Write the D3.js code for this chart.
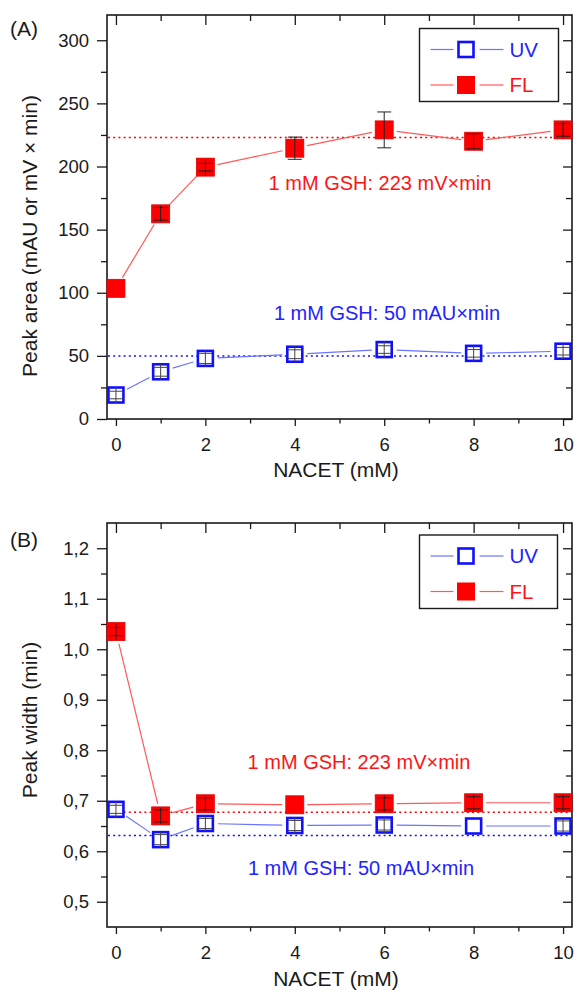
<!DOCTYPE html>
<html>
<head>
<meta charset="utf-8">
<script src="https://cdn.jsdelivr.net/npm/d3@7"></script>
<style>
  body { margin: 0; background: #fff; }
  svg { display: block; }
  text { font-family: "Liberation Sans", Arial, sans-serif; }
</style>
</head>
<body>
<svg id="chart" width="574" height="992"></svg>
<script>
// NACET concentrations (mM)
const nacet = [0, 1, 2, 4, 6, 8, 10];
const xTicks = [0, 2, 4, 6, 8, 10];
const xMinorTicks = [1, 3, 5, 7, 9];

// (A) peak area
const areaUV = [19, 37.4, 48, 51.3, 55, 52, 53.7];
const areaUVErr = [3, 3.5, 4, 3.5, 3, 3, 3];
const areaFL = [103.5, 162.5, 199.5, 214.5, 229, 220, 229];
const areaFLErr = [0, 5, 3, 8.8, 14.2, 6, 5];
const areaRefUV = 50;
const areaRefFL = 223;
const areaTicks = [0, 50, 100, 150, 200, 250, 300];
const areaMinorTicks = [25, 75, 125, 175, 225, 275];

// (B) peak width
const widthUV = [0.683, 0.623, 0.655, 0.651, 0.652, 0.650, 0.650];
const widthUVErr = [0.008, 0.01, 0.01, 0.01, 0.01, 0, 0.01];
const widthFL = [1.035, 0.670, 0.694, 0.692, 0.694, 0.696, 0.696];
const widthFLErr = [0.008, 0.012, 0.012, 0, 0.012, 0.012, 0.012];
const widthRefUV = 0.631;
const widthRefFL = 0.677;
const widthTicks = [0.5, 0.6, 0.7, 0.8, 0.9, 1.0, 1.1, 1.2];
const widthMinorTicks = [0.55, 0.65, 0.75, 0.85, 0.95, 1.05, 1.15];

const seriesNames = ["UV", "FL"];
const refLabels = ["1 mM GSH: 50 mAU×min", "1 mM GSH: 223 mV×min"];

const BLUE = "#1010ff", BLUE_LINE = "#6a74ff", BLUE_TEXT = "#2323ff";
const RED = "#ff0000", RED_LINE = "#ff5a5a", RED_TEXT = "#ff1414";
const INK = "#1a1a1a";

const svg = d3.select("#chart");

function drawPanel(cfg) {
  const { top, bottom, left, right } = cfg.box;
  const x = d3.scaleLinear().domain([-0.2, 10.2]).range([left, right]);
  const y = d3.scaleLinear().domain(cfg.yDomain).range([bottom, top]);
  const g = svg.append("g");

  const styleAxis = sel => {
    sel.select(".domain").remove();
    sel.selectAll(".tick line").attr("stroke", INK).attr("stroke-width", 1.3);
    sel.selectAll(".tick text").attr("fill", INK).style("font-size", "18.5px")
      .style("font-family", '"Liberation Sans", Arial, sans-serif');
  };

  // bottom axis (outward) with labels
  g.append("g").attr("transform", `translate(0,${bottom})`)
    .call(d3.axisBottom(x).tickValues(xTicks).tickSize(7).tickPadding(11.5).tickFormat(d3.format("d")))
    .call(styleAxis);
  g.append("g").attr("transform", `translate(0,${bottom})`)
    .call(d3.axisBottom(x).tickValues(xMinorTicks).tickSize(4.5).tickFormat(""))
    .call(styleAxis);
  // top axis (inward)
  g.append("g").attr("transform", `translate(0,${top})`)
    .call(d3.axisBottom(x).tickValues(xTicks).tickSize(10).tickFormat(""))
    .call(styleAxis);
  g.append("g").attr("transform", `translate(0,${top})`)
    .call(d3.axisBottom(x).tickValues(xMinorTicks).tickSize(6).tickFormat(""))
    .call(styleAxis);
  // left axis (outward) with labels
  g.append("g").attr("transform", `translate(${left},0)`)
    .call(d3.axisLeft(y).tickValues(cfg.yTicks).tickSize(10).tickPadding(8).tickFormat(cfg.yFormat))
    .call(styleAxis);
  g.append("g").attr("transform", `translate(${left},0)`)
    .call(d3.axisLeft(y).tickValues(cfg.yMinor).tickSize(6).tickFormat(""))
    .call(styleAxis);
  // right axis (inward)
  g.append("g").attr("transform", `translate(${right},0)`)
    .call(d3.axisLeft(y).tickValues(cfg.yTicks).tickSize(9).tickFormat(""))
    .call(styleAxis);
  g.append("g").attr("transform", `translate(${right},0)`)
    .call(d3.axisLeft(y).tickValues(cfg.yMinor).tickSize(6).tickFormat(""))
    .call(styleAxis);

  // frame
  g.append("rect").attr("x", left).attr("y", top)
    .attr("width", right - left).attr("height", bottom - top)
    .attr("fill", "none").attr("stroke", INK).attr("stroke-width", 1.6);

  // reference levels
  [[cfg.refUV, BLUE], [cfg.refFL, RED]].forEach(([v, c]) => {
    g.append("line").attr("x1", left + 1).attr("x2", right - 1)
      .attr("y1", y(v)).attr("y2", y(v))
      .attr("stroke", c).attr("stroke-width", 1.5).attr("stroke-dasharray", "2,3.2");
  });

  // connecting lines, stopping short of the symbols
  const gap = 12.5;
  const drawSegments = (vals, color) => {
    for (let i = 0; i < vals.length - 1; i++) {
      const x1 = x(nacet[i]), y1 = y(vals[i]), x2 = x(nacet[i + 1]), y2 = y(vals[i + 1]);
      const len = Math.hypot(x2 - x1, y2 - y1);
      if (len <= 2 * gap) continue;
      const ux = (x2 - x1) / len, uy = (y2 - y1) / len;
      g.append("line")
        .attr("x1", x1 + ux * gap).attr("y1", y1 + uy * gap)
        .attr("x2", x2 - ux * gap).attr("y2", y2 - uy * gap)
        .attr("stroke", color).attr("stroke-width", 1.2);
    }
  };
  drawSegments(cfg.uv, BLUE_LINE);
  drawSegments(cfg.fl, RED_LINE);

  // symbols
  g.selectAll(null).data(nacet).join("rect")
    .attr("x", (d, i) => x(d) - 7.5).attr("y", (d, i) => y(cfg.uv[i]) - 7.5)
    .attr("width", 15).attr("height", 15)
    .attr("fill", "#fff").attr("stroke", BLUE).attr("stroke-width", 2.6);
  g.selectAll(null).data(nacet).join("rect")
    .attr("x", (d, i) => x(d) - 9).attr("y", (d, i) => y(cfg.fl[i]) - 9)
    .attr("width", 18).attr("height", 18)
    .attr("fill", RED).attr("stroke", "#e00000").attr("stroke-width", 0.8);

  // error bars drawn over the symbols
  const drawErr = (vals, errs, color) => {
    vals.forEach((v, i) => {
      const e = errs[i];
      if (!e) return;
      const cx = x(nacet[i]), cy = y(v);
      const y0 = y(v - e), y1 = y(v + e);
      const cap = 7;
      const eg = g.append("g").attr("stroke", color).attr("stroke-width", 1);
      eg.append("line").attr("x1", cx).attr("x2", cx)
        .attr("y1", Math.min(y1, cy - 8)).attr("y2", Math.max(y0, cy + 8));
      eg.append("line").attr("x1", cx - cap).attr("x2", cx + cap).attr("y1", y0).attr("y2", y0);
      eg.append("line").attr("x1", cx - cap).attr("x2", cx + cap).attr("y1", y1).attr("y2", y1);
    });
  };
  drawErr(cfg.uv, cfg.uvErr, "#444");
  drawErr(cfg.fl, cfg.flErr, "#222");

  // annotations
  g.append("text").attr("x", cfg.flLabel[0]).attr("y", cfg.flLabel[1])
    .attr("text-anchor", "middle").attr("fill", RED_TEXT).style("font-size", "20px")
    .text(refLabels[1]);
  g.append("text").attr("x", cfg.uvLabel[0]).attr("y", cfg.uvLabel[1])
    .attr("text-anchor", "middle").attr("fill", BLUE_TEXT).style("font-size", "20px")
    .text(refLabels[0]);

  // legend
  const lg = g.append("g");
  const [lx0, ly0, lx1, ly1] = cfg.legend;
  lg.append("rect").attr("x", lx0).attr("y", ly0).attr("width", lx1 - lx0).attr("height", ly1 - ly0)
    .attr("fill", "#fff").attr("stroke", INK).attr("stroke-width", 1.4);
  const rows = [ly0 + 21, ly0 + 56.5];
  seriesNames.forEach((name, k) => {
    const ry = rows[k];
    const lineC = k === 0 ? BLUE_LINE : RED_LINE;
    lg.append("line").attr("x1", lx0 + 11).attr("x2", lx0 + 34).attr("y1", ry).attr("y2", ry)
      .attr("stroke", lineC).attr("stroke-width", 1.2);
    lg.append("line").attr("x1", lx0 + 60).attr("x2", lx0 + 84).attr("y1", ry).attr("y2", ry)
      .attr("stroke", lineC).attr("stroke-width", 1.2);
    if (k === 0) {
      lg.append("rect").attr("x", lx0 + 39).attr("y", ry - 7.5).attr("width", 15).attr("height", 15)
        .attr("fill", "#fff").attr("stroke", BLUE).attr("stroke-width", 2.6);
    } else {
      lg.append("rect").attr("x", lx0 + 37.5).attr("y", ry - 9).attr("width", 18).attr("height", 18)
        .attr("fill", RED);
    }
    lg.append("text").attr("x", lx0 + 90).attr("y", ry + 7.3)
      .attr("fill", k === 0 ? BLUE_TEXT : RED_TEXT).style("font-size", "20.5px").text(name);
  });

  // axis titles and panel tag
  g.append("text").attr("x", 336).attr("y", cfg.xTitleY)
    .attr("text-anchor", "middle").attr("fill", INK).style("font-size", "21px").text("NACET (mM)");
  g.append("text").attr("transform", `translate(37,${cfg.yTitleCenter}) rotate(-90)`)
    .attr("text-anchor", "middle").attr("fill", INK).style("font-size", "21px").text(cfg.yTitle);
  g.append("text").attr("x", 10).attr("y", cfg.tagY)
    .attr("fill", INK).style("font-size", "21px").text(cfg.tag);
}

drawPanel({
  box: { top: 15, bottom: 419, left: 107, right: 572 },
  yDomain: [0, 320], yTicks: areaTicks, yMinor: areaMinorTicks, yFormat: d3.format("d"),
  uv: areaUV, uvErr: areaUVErr, fl: areaFL, flErr: areaFLErr,
  refUV: areaRefUV, refFL: areaRefFL,
  flLabel: [380, 189.5], uvLabel: [387, 320],
  legend: [419.5, 28.5, 558.5, 101.5],
  xTitleY: 477, yTitleCenter: 236, yTitle: "Peak area (mAU or mV × min)",
  tag: "(A)", tagY: 36
});

drawPanel({
  box: { top: 523, bottom: 927, left: 107, right: 572 },
  yDomain: [0.45, 1.25], yTicks: widthTicks, yMinor: widthMinorTicks,
  yFormat: d => d3.format(".1f")(d).replace(".", ","),
  uv: widthUV, uvErr: widthUVErr, fl: widthFL, flErr: widthFLErr,
  refUV: widthRefUV, refFL: widthRefFL,
  flLabel: [359, 769], uvLabel: [361, 875],
  legend: [419.5, 535, 557.5, 608.5],
  xTitleY: 986, yTitleCenter: 720, yTitle: "Peak width (min)",
  tag: "(B)", tagY: 547
});
</script>
</body>
</html>
